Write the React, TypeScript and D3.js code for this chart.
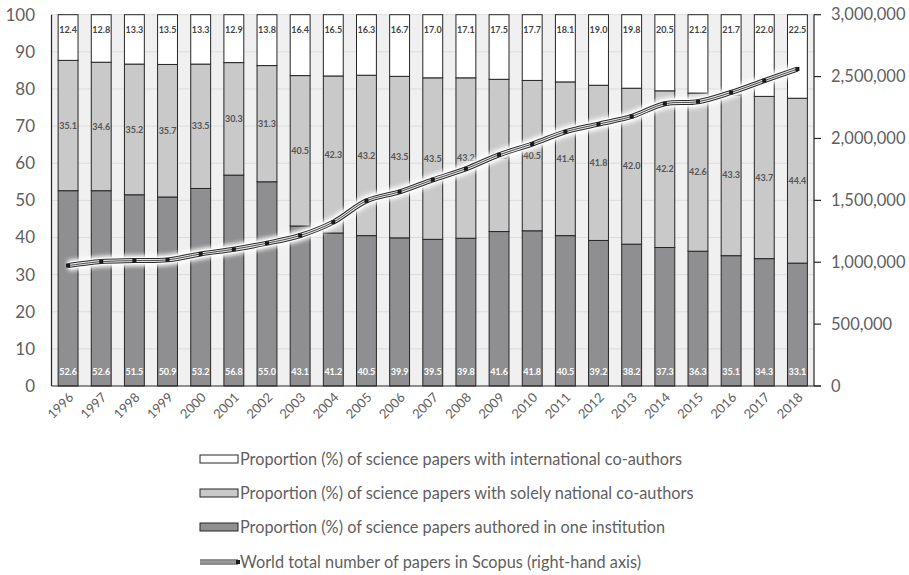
import React from "react";
import * as d3 from "d3";

const years = [
  "1996", "1997", "1998", "1999", "2000", "2001", "2002", "2003", "2004", "2005", "2006", "2007",
  "2008", "2009", "2010", "2011", "2012", "2013", "2014", "2015", "2016", "2017", "2018",
];

// Shares (%) of papers by collaboration type
const international = [
  12.4, 12.8, 13.3, 13.5, 13.3, 12.9, 13.8, 16.4, 16.5, 16.3, 16.7, 17.0,
  17.1, 17.5, 17.7, 18.1, 19.0, 19.8, 20.5, 21.2, 21.7, 22.0, 22.5,
];
const national = [
  35.1, 34.6, 35.2, 35.7, 33.5, 30.3, 31.3, 40.5, 42.3, 43.2, 43.5, 43.5,
  43.2, 41.0, 40.5, 41.4, 41.8, 42.0, 42.2, 42.6, 43.3, 43.7, 44.4,
];
const singleInstitution = [
  52.6, 52.6, 51.5, 50.9, 53.2, 56.8, 55.0, 43.1, 41.2, 40.5, 39.9, 39.5,
  39.8, 41.6, 41.8, 40.5, 39.2, 38.2, 37.3, 36.3, 35.1, 34.3, 33.1,
];

// World total number of papers in Scopus
const worldTotal = [
  973000, 1005000, 1013000, 1019000, 1067000, 1105000, 1154000, 1216000, 1324000, 1496000,
  1569000, 1666000, 1755000, 1868000, 1955000, 2054000, 2116000, 2178000, 2281000, 2297000,
  2372000, 2467000, 2561000,
];

const leftTicks = [0, 10, 20, 30, 40, 50, 60, 70, 80, 90, 100];
const rightTicks = [0, 500000, 1000000, 1500000, 2000000, 2500000, 3000000];

const legendLabels = [
  "Proportion (%) of science papers with international co-authors",
  "Proportion (%) of science papers with solely national co-authors",
  "Proportion (%) of science papers authored in one institution",
  "World total number of papers in Scopus (right-hand axis)",
];

const W = 909;
const H = 575;
const plot = { left: 51.5, right: 814, top: 14.7, bottom: 386 };

const keys = ["single", "national", "international"] as const;
const fills: Record<string, string> = {
  single: "#8f8f92",
  national: "#c9c9c9",
  international: "#ffffff",
};
const labelColors: Record<string, string> = {
  single: "#ffffff",
  national: "#555555",
  international: "#444444",
};

const FONT = "Lato, 'Open Sans', sans-serif";
const AXIS_COLOR = "#5f5f5f";

export default function App() {
  const table = years.map((year, i) => ({
    year,
    single: singleInstitution[i],
    national: national[i],
    international: international[i],
  }));

  const x = d3
    .scaleBand<string>()
    .domain(years)
    .range([plot.left, plot.right])
    .paddingInner(0.4)
    .paddingOuter(0.2);
  const yPct = d3.scaleLinear().domain([0, 100]).range([plot.bottom, plot.top]);
  const yTotal = d3.scaleLinear().domain([0, 3000000]).range([plot.bottom, plot.top]);

  const series = d3.stack<any>().keys(keys as unknown as string[])(table);

  const cx = (year: string) => (x(year) ?? 0) + x.bandwidth() / 2;

  const line = d3
    .line<number>()
    .x((_, i) => cx(years[i]))
    .y((v) => yTotal(v))
    .curve(d3.curveCatmullRom.alpha(0.5));
  const linePath = line(worldTotal) ?? "";

  const fmt = d3.format(",");

  const legendX = 200;
  const legendYs = [459, 493, 527, 562];

  return (
    <div style={{ position: "absolute", left: 0, top: 0 }}>
      <svg width={W} height={H} style={{ display: "block", background: "#ffffff" }}>
        <defs>
          <filter id="glow" x="-10%" y="-50%" width="120%" height="200%">
            <feGaussianBlur stdDeviation="2" />
          </filter>
        </defs>

        {/* plot background */}
        <rect
          x={plot.left}
          y={plot.top}
          width={plot.right - plot.left}
          height={plot.bottom - plot.top}
          fill="#f0f0f0"
        />

        {/* gridlines */}
        {leftTicks.slice(1).map((t) => (
          <line
            key={`g${t}`}
            x1={plot.left}
            x2={plot.right}
            y1={yPct(t)}
            y2={yPct(t)}
            stroke="#dcdcdc"
            strokeWidth={1}
          />
        ))}

        {/* stacked bars */}
        {series.map((s) =>
          s.map((d, i) => {
            const yr = years[i];
            const top = Math.min(d[1], 100);
            return (
              <rect
                key={`${s.key}-${yr}`}
                x={x(yr)}
                y={yPct(top)}
                width={x.bandwidth()}
                height={yPct(d[0]) - yPct(top)}
                fill={fills[s.key]}
                stroke="#262626"
                strokeWidth={1}
              />
            );
          })
        )}

        {/* value labels */}
        {series.map((s) =>
          s.map((d, i) => {
            const yr = years[i];
            const v = (table[i] as any)[s.key] as number;
            let ly: number;
            if (s.key === "single") ly = yPct(0) - 14;
            else if (s.key === "international") ly = yPct(Math.min(d[1], 100)) + 15;
            else ly = (yPct(d[0]) + yPct(d[1])) / 2;
            return (
              <text
                key={`l-${s.key}-${yr}`}
                x={cx(yr)}
                y={ly}
                dy="0.35em"
                textAnchor="middle"
                fontFamily={FONT}
                fontWeight={700}
                fontSize={9}
                fill={labelColors[s.key]}
              >
                {v.toFixed(1)}
              </text>
            );
          })
        )}

        {/* axes lines */}
        <line x1={plot.left} x2={plot.left} y1={plot.top} y2={plot.bottom} stroke="#262626" strokeWidth={1.2} />
        <line x1={plot.right} x2={plot.right} y1={plot.top} y2={plot.bottom} stroke="#262626" strokeWidth={1.2} />
        <line x1={plot.left} x2={plot.right + 7} y1={plot.bottom} y2={plot.bottom} stroke="#262626" strokeWidth={1.2} />
        {rightTicks.map((t) => (
          <line
            key={`rt${t}`}
            x1={plot.right}
            x2={plot.right + 7}
            y1={yTotal(t)}
            y2={yTotal(t)}
            stroke="#262626"
            strokeWidth={1.2}
          />
        ))}

        {/* world total line */}
        <path d={linePath} fill="none" stroke="#ffffff" strokeWidth={11} filter="url(#glow)" strokeLinejoin="round" />
        <path d={linePath} fill="none" stroke="#ffffff" strokeWidth={7} strokeLinejoin="round" />
        <path d={linePath} fill="none" stroke="#2a2a2a" strokeWidth={5} strokeLinejoin="round" />
        <path d={linePath} fill="none" stroke="#e8e8e8" strokeWidth={3} strokeLinejoin="round" />
        <path d={linePath} fill="none" stroke="#3a3a3a" strokeWidth={0.9} strokeLinejoin="round" />
        {worldTotal.map((v, i) => (
          <rect
            key={`m${i}`}
            x={cx(years[i]) - 2}
            y={yTotal(v) - 2}
            width={4}
            height={4}
            fill="#1a1a1a"
          />
        ))}

        {/* left axis labels */}
        {leftTicks.map((t) => (
          <text
            key={`lt${t}`}
            x={35}
            y={yPct(t)}
            dy="0.35em"
            textAnchor="end"
            fontFamily={FONT}
            fontSize={17}
            fill={AXIS_COLOR}
          >
            {t}
          </text>
        ))}

        {/* right axis labels */}
        {rightTicks.map((t) => (
          <text
            key={`rl${t}`}
            x={831}
            y={yTotal(t)}
            dy="0.35em"
            textAnchor="start"
            fontFamily={FONT}
            fontSize={16.5}
            fill={AXIS_COLOR}
          >
            {fmt(t)}
          </text>
        ))}

        {/* year labels */}
        {years.map((yr) => (
          <text
            key={`x${yr}`}
            transform={`translate(${cx(yr) + 3},${plot.bottom + 9}) rotate(-45)`}
            textAnchor="end"
            dy="0.35em"
            fontFamily={FONT}
            fontSize={13}
            fill={AXIS_COLOR}
          >
            {yr}
          </text>
        ))}

        {/* legend */}
        {legendLabels.map((label, i) => {
          const ly = legendYs[i];
          return (
            <g key={`lg${i}`}>
              {i < 3 ? (
                <rect
                  x={legendX}
                  y={ly - 4}
                  width={38}
                  height={8}
                  fill={fills[keys[2 - i]]}
                  stroke="#262626"
                  strokeWidth={1}
                />
              ) : (
                <g>
                  <line x1={legendX} x2={legendX + 38} y1={ly} y2={ly} stroke="#2a2a2a" strokeWidth={5} />
                  <line x1={legendX} x2={legendX + 38} y1={ly} y2={ly} stroke="#e8e8e8" strokeWidth={3} />
                  <line x1={legendX} x2={legendX + 38} y1={ly} y2={ly} stroke="#3a3a3a" strokeWidth={0.9} />
                  <rect x={legendX + 36} y={ly - 2} width={4} height={4} fill="#1a1a1a" />
                </g>
              )}
              <text
                x={legendX + 40}
                y={ly}
                dy="0.35em"
                fontFamily={FONT}
                fontSize={16.3}
                fill={AXIS_COLOR}
              >
                {label}
              </text>
            </g>
          );
        })}
      </svg>
    </div>
  );
}
